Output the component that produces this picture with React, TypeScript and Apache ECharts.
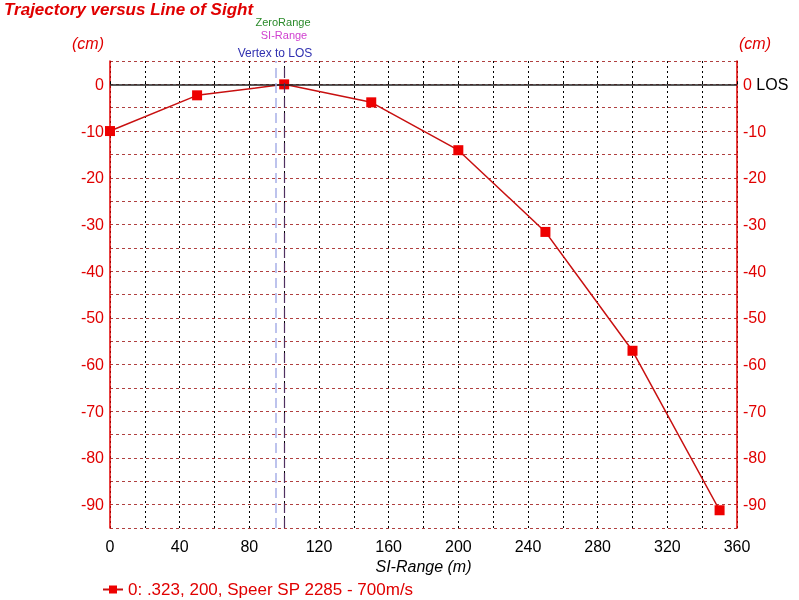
import React, { useEffect, useRef } from "react";
import * as echarts from "echarts";

const rangeM = [0, 50, 100, 150, 200, 250, 300, 350];
const dropCm = [-10, -2.35, 0, -3.85, -14.1, -31.6, -57.05, -91.2];
const seriesName = "0: .323, 200, Speer SP 2285 - 700m/s";
const vertexToLos = 95;
const zeroRange = 100;
const xTickLabels = [0, 40, 80, 120, 160, 200, 240, 280, 320, 360];
const yTickLabels = [0, -10, -20, -30, -40, -50, -60, -70, -80, -90];

export default function App() {
  const ref = useRef<HTMLDivElement>(null);
  useEffect(() => {
    if (!ref.current) return;
    const chart = echarts.init(ref.current, null, { renderer: "svg" });
    const font = "Arial, 'Liberation Sans', sans-serif";
    const red = "#e00000";
    chart.setOption({
      animation: false,
      textStyle: { fontFamily: font },
      title: {
        text: "Trajectory versus Line of Sight",
        left: 4,
        top: 1,
        padding: 0,
        textStyle: { color: red, fontSize: 17, fontWeight: "bold", fontStyle: "italic", fontFamily: font },
      },
      grid: { left: 110, right: 62, top: 61, bottom: 72 },
      legend: {
        left: 102,
        top: 581,
        padding: 0,
        itemWidth: 20,
        itemHeight: 10,
        data: [seriesName],
        textStyle: { color: red, fontSize: 17, fontFamily: font, padding: [0, 0, 0, 0] },
      },
      xAxis: {
        type: "value",
        min: 0,
        max: 360,
        interval: 20,
        name: "SI-Range (m)",
        nameLocation: "middle",
        nameGap: 29,
        nameTextStyle: { color: "#000", fontSize: 16, fontStyle: "italic", fontFamily: font },
        axisLine: { show: false },
        axisTick: { show: true, inside: true, length: 3, lineStyle: { color: "#000" } },
        axisLabel: {
          color: "#000",
          fontSize: 16,
          margin: 10,
          formatter: (v: number) => (xTickLabels.includes(v) ? String(v) : ""),
        },
        splitLine: { show: true, lineStyle: { color: "#000", type: [2, 3], width: 1 } },
      },
      yAxis: [
        {
          type: "value",
          min: -95,
          max: 5,
          interval: 5,
          position: "left",
          name: "(cm)",
          nameLocation: "end",
          nameGap: 10,
          nameTextStyle: { color: red, fontSize: 16, fontStyle: "italic", align: "right", padding: [0, 6, 0, 0] },
          axisLine: { show: true, lineStyle: { color: red, width: 1.5 } },
          axisTick: { show: false },
          axisLabel: {
            color: red,
            fontSize: 16,
            margin: 6,
            formatter: (v: number) => (yTickLabels.includes(v) ? String(v) : ""),
          },
          splitLine: { show: true, lineStyle: { color: "#b04040", type: [3, 3], width: 1 } },
        },
        {
          type: "value",
          min: -95,
          max: 5,
          interval: 5,
          position: "right",
          name: "(cm)",
          nameLocation: "end",
          nameGap: 10,
          nameTextStyle: { color: red, fontSize: 16, fontStyle: "italic", align: "left", padding: [0, 0, 0, 2] },
          axisLine: { show: true, lineStyle: { color: red, width: 1.5 } },
          axisTick: { show: false },
          axisLabel: {
            color: red,
            fontSize: 16,
            margin: 6,
            formatter: (v: number) =>
              v === 0 ? "{a|0} {b|LOS}" : yTickLabels.includes(v) ? String(v) : "",
            rich: {
              a: { color: red, fontSize: 16 },
              b: { color: "#000", fontSize: 16 },
            },
          },
          splitLine: { show: false },
        },
      ],
      graphic: [
        {
          type: "text",
          x: 283,
          y: 22,
          style: {
            text: "ZeroRange",
            fill: "#2a8a2a",
            font: "11px Arial, 'Liberation Sans', sans-serif",
            align: "center",
            verticalAlign: "middle",
          },
        },
        {
          type: "text",
          x: 284,
          y: 35,
          style: {
            text: "SI-Range",
            fill: "#d040d0",
            font: "11px Arial, 'Liberation Sans', sans-serif",
            align: "center",
            verticalAlign: "middle",
          },
        },
        {
          type: "text",
          x: 275,
          y: 53,
          style: {
            text: "Vertex to LOS",
            fill: "#3030b0",
            font: "12px Arial, 'Liberation Sans', sans-serif",
            align: "center",
            verticalAlign: "middle",
          },
        },
      ],
      series: [
        {
          name: seriesName,
          type: "line",
          data: rangeM.map((x, i) => [x, dropCm[i]]),
          symbol: "rect",
          symbolSize: 10,
          itemStyle: { color: "#ee0000" },
          lineStyle: { color: "#c81010", width: 1.5 },
          markLine: {
            symbol: "none",
            silent: true,
            label: { show: false },
            data: [
              { yAxis: 0, lineStyle: { color: "#222", type: "solid", width: 1.5 } },
              { xAxis: vertexToLos, lineStyle: { color: "#a8b0e8", type: [10, 5], width: 1.5 } },
              { xAxis: zeroRange, lineStyle: { color: "#503060", type: [10, 5], width: 1.2 } },
            ],
          },
        },
      ],
    });
    return () => chart.dispose();
  }, []);
  return (
    <div
      ref={ref}
      style={{ position: "fixed", left: 0, top: 0, width: 799, height: 600 }}
    />
  );
}
